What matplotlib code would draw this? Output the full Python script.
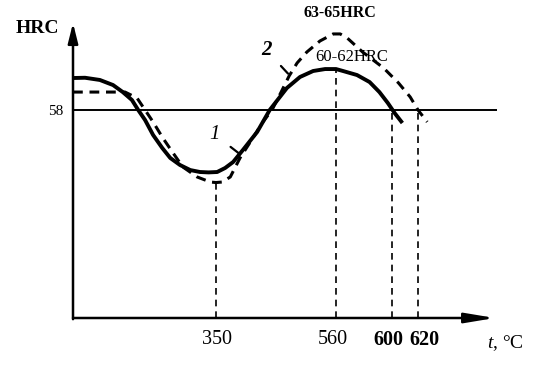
import numpy as np
import matplotlib
matplotlib.use("Agg")
from matplotlib import pyplot as plt

plt.rcParams['font.family'] = ['Liberation Serif', 'DejaVu Serif']
plt.rcParams['mathtext.fontset'] = 'custom'
plt.rcParams['mathtext.it'] = 'Liberation Serif:italic'
plt.rcParams['mathtext.rm'] = 'Liberation Serif'

# curve 1 (solid): tempering temperature, °C -> hardness, HRC
t1 = [100, 121, 147, 170, 187, 203, 214, 226, 240, 256, 270, 287, 305, 322,
      337, 352, 366, 380, 397, 422, 444, 474, 497, 520, 541, 560, 565, 575,
      584, 591, 597, 602, 608]
hrc1 = [60.46, 60.48, 60.31, 59.92, 59.38, 58.77, 58.00, 57.23, 56.08, 55.08,
        54.31, 53.77, 53.38, 53.23, 53.20, 53.23, 53.54, 54.00, 54.92, 56.31,
        58.00, 59.69, 60.54, 61.00, 61.15, 61.15, 61.00, 60.69, 60.15, 59.38,
        58.54, 57.77, 57.00]

# curve 2 (dashed)
t2 = [100, 191, 212, 226, 240, 257, 275, 292, 317, 340, 350, 361, 375, 392,
      410, 432, 448, 464, 478, 492, 509, 532, 555, 563, 568, 579, 594, 605,
      614, 620, 627]
hrc2 = [59.38, 59.38, 58.92, 58.00, 57.08, 55.85, 54.69, 53.62, 52.85, 52.46,
        52.42, 52.46, 52.85, 54.31, 55.54, 57.08, 58.00, 59.38, 60.62, 61.62,
        62.46, 63.31, 63.85, 63.85, 63.54, 62.46, 61.23, 60.08, 59.00, 58.00,
        57.08]

tick_temps = [350, 560, 600, 620]
tick_labels = ['350', '560', '600', '620']
drop_tops = [52.42, 61.15, 58.0, 57.9]
hrc_ref = 58

# schematic (non-uniform) temperature axis
t_knots = [100, 350, 560, 600, 620, 680]
u_knots = [0, 143, 263, 319, 345, 424]


def fwd(t):
    return np.interp(t, t_knots, u_knots)


def inv(u):
    return np.interp(u, u_knots, t_knots)


fig = plt.figure(figsize=(5.4, 3.83), dpi=100)
ax = fig.add_axes([73 / 540, 65 / 383, 424 / 540, 295 / 383])
ax.set_xscale('function', functions=(fwd, inv))
ax.set_xlim(100, 680)
ax.set_ylim(42, 42 + 295 / 13)
for s in ax.spines.values():
    s.set_visible(False)

# axes drawn as arrows
ax.annotate('', xy=(0, 1), xytext=(0, -0.004), xycoords='axes fraction',
            arrowprops=dict(arrowstyle='-|>,head_length=1.2,head_width=0.3',
                            lw=1.8, color='black', mutation_scale=10,
                            shrinkA=0, shrinkB=0))
ax.annotate('', xy=(0.995, 0), xytext=(0, 0), xycoords='axes fraction',
            arrowprops=dict(arrowstyle='-|>,head_length=1.8,head_width=0.3',
                            lw=1.8, color='black', mutation_scale=10,
                            shrinkA=0, shrinkB=0))

ax.axhline(hrc_ref, color='black', lw=1.4)
ax.vlines(tick_temps, 42, drop_tops, colors='black', lw=1.2,
          linestyles=(0, (4, 3)))

ax.plot(t1, hrc1, color='black', lw=2.8, solid_joinstyle='round',
        solid_capstyle='butt')
ax.plot(t2, hrc2, color='black', lw=2.2, linestyle=(0, (3.2, 2.2)),
        dash_joinstyle='round')

ax.set_xticks([])
ax.set_yticks([hrc_ref], ['58'])
ax.tick_params(axis='y', length=0, pad=7, labelsize=11)
ax.minorticks_off()

# x labels, nudged apart like in the drawing
nudge = {'350': (1, 'normal'), '560': (-3, 'normal'),
         '600': (-4, 'bold'), '620': (6, 'bold')}
for t, lab in zip(tick_temps, tick_labels):
    dx, w = nudge[lab]
    ax.annotate(lab, xy=(t, 0), xycoords=('data', 'axes fraction'),
                xytext=(dx, -22), textcoords='offset pixels',
                ha='center', va='center', fontsize=14.5, fontweight=w)

ax.text(-0.085, 0.983, 'HRC', transform=ax.transAxes, fontsize=14,
        fontweight='bold', ha='center', va='center')
ax.text(1.021, -0.085, r'$\it{t}$, °C', transform=ax.transAxes, fontsize=14,
        ha='center', va='center')

# curve labels with leaders
ax.annotate('1', xy=(392, 54.6), xytext=(348, 56.1), fontsize=15,
            style='italic', ha='center', va='center',
            arrowprops=dict(arrowstyle='-', lw=1.6, color='black',
                            shrinkA=7, shrinkB=0))
ax.annotate('2', xy=(476, 60.8), xytext=(438, 62.6), fontsize=15,
            style='italic', fontweight='bold', ha='center', va='center',
            arrowprops=dict(arrowstyle='-', lw=1.6, color='black',
                            shrinkA=7, shrinkB=0))
ax.text(563, 65.46, '63-65HRC', fontsize=11.5, fontweight='bold',
        ha='center', va='center', clip_on=False)
ax.text(571, 62.08, '60-62HRC', fontsize=12, ha='center', va='center')

fig.savefig('out.png', dpi=100)
